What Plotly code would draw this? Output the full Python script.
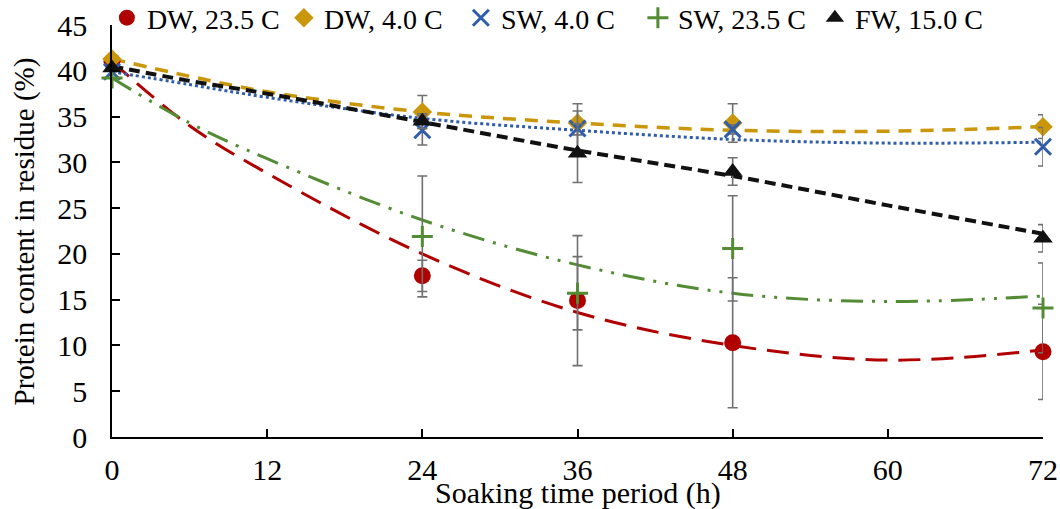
import plotly.graph_objects as go

# ---- data ----
time_h = [0, 24, 36, 48, 72]

dw_235 = [41.0, 17.6, 14.9, 10.3, 9.3]
dw_235_err = [0, 1.7, 7.1, 7.1, 5.2]
dw_40 = [41.3, 35.5, 34.3, 34.3, 33.9]
dw_40_err = [0, 1.8, 1.3, 2.1, 1.3]
sw_40 = [39.9, 33.5, 33.7, 33.6, 31.7]
sw_40_err = [0, 1.6, 2.7, 0.5, 2.1]
sw_235 = [39.2, 21.9, 15.7, 20.6, 14.1]
sw_235_err = [0, 6.6, 4.0, 5.75, 4.9]
fw_150 = [40.3, 34.5, 31.0, 29.0, 21.7]
fw_150_err = [0, 0.8, 3.2, 1.5, 1.5]

# trendline values
trend_t = [0, 6, 12, 24, 36, 48, 60, 72]
trend_dw_235 = [41.0, 34.0, 28.8, 20.0, 13.6, 10.0, 8.4, 9.5]
trend_dw_40 = [41.3, 39.4, 37.7, 35.5, 34.3, 33.5, 33.4, 33.9]
trend_sw_40 = [39.9, 38.5, 37.1, 34.8, 33.5, 32.5, 32.1, 32.2]
trend_sw_235 = [39.2, 34.3, 30.4, 23.7, 18.8, 15.7, 14.8, 15.4]
trend_fw_150 = [40.5, 38.9, 37.5, 34.4, 31.3, 28.5, 25.3, 22.2]

x_ticks = [0, 12, 24, 36, 48, 60, 72]
y_ticks = [0, 5, 10, 15, 20, 25, 30, 35, 40, 45]

FONT = "Liberation Serif, Times New Roman, serif"
RED = "#B00000"
GOLD = "#C9960C"
BLUE = "#2F5DAA"
GREEN = "#548C35"
BLACK = "#111111"
ERR = "#707070"

fig = go.Figure()

# trendlines
trends = [
    (trend_dw_235, RED, "22px,11px", 3),
    (trend_dw_40, GOLD, "13px,9px", 3.5),
    (trend_sw_40, BLUE, "dot", 3),
    (trend_sw_235, GREEN, "22px,9px,3px,9px,3px,9px", 3),
    (trend_fw_150, BLACK, "11px,6px", 4),
]
for vals, col, dash, w in trends:
    fig.add_trace(go.Scatter(
        x=trend_t, y=vals, mode="lines", showlegend=False, hoverinfo="skip",
        line=dict(color=col, dash=dash, width=w, shape="spline", smoothing=1.0),
        cliponaxis=False,
    ))

series = [
    ("DW, 23.5 C", dw_235, dw_235_err, RED, "circle", 17, 0),
    ("DW, 4.0 C", dw_40, dw_40_err, GOLD, "diamond", 15, 0),
    ("SW, 4.0 C", sw_40, sw_40_err, BLUE, "x-thin", 16, 3),
    ("SW, 23.5 C", sw_235, sw_235_err, GREEN, "cross-thin", 15, 3),
    ("FW, 15.0 C", fw_150, fw_150_err, BLACK, "triangle-up", 17, 0),
]
for name, vals, err, col, sym, size, lw in series:
    fig.add_trace(go.Scatter(
        x=time_h, y=vals, mode="markers", name=name,
        marker=dict(color=col, symbol=sym, size=size,
                    line=dict(color=col, width=lw)),
        error_y=dict(type="data", array=err, visible=True, color=ERR,
                     thickness=1.6, width=5),
        cliponaxis=False,
    ))

fig.update_layout(
    width=1060, height=509,
    margin=dict(l=112, r=17, t=25, b=72, autoexpand=False),
    paper_bgcolor="white", plot_bgcolor="white",
    font=dict(family=FONT, size=28, color="black"),
    showlegend=True,
    legend=dict(orientation="h", x=-0.0055, xanchor="left", y=1.017, yanchor="middle",
                font=dict(family=FONT, size=28, color="black"),
                bgcolor="rgba(0,0,0,0)", itemwidth=30,
                entrywidth=132, entrywidthmode="pixels",
                tracegroupgap=0),
    xaxis=dict(range=[0, 72], tickvals=x_ticks, ticktext=[str(v) for v in x_ticks],
               showgrid=False, zeroline=False, showline=True, linecolor="black",
               linewidth=1.5, ticks="inside", ticklen=8, tickcolor="black",
               tickwidth=1.5, tickfont=dict(family=FONT, size=30),
               ticklabelstandoff=5),
    yaxis=dict(range=[0, 45], tickvals=y_ticks, showgrid=False, zeroline=False,
               showline=True, linecolor="black", linewidth=1.5, ticks="inside",
               ticklen=8, tickcolor="black", tickwidth=1.5,
               tickfont=dict(family=FONT, size=30), ticklabelstandoff=17),
    annotations=[
        dict(text="Soaking time period (h)", xref="paper", yref="paper",
             x=0.5, y=-0.136, xanchor="center", yanchor="middle", showarrow=False,
             font=dict(family=FONT, size=30)),
        dict(text="Protein content in residue (%)", xref="paper", yref="paper",
             x=-0.094, y=0.5, xanchor="center", yanchor="middle", showarrow=False,
             textangle=-90, font=dict(family=FONT, size=29)),
    ],
)

# remove the default page margin so the figure fills the window exactly
fig.write_html(
    "out.html",
    config={"displayModeBar": False},
    post_script="document.body.style.margin='0';document.body.style.overflow='hidden';"
                "document.documentElement.style.overflow='hidden';",
)
